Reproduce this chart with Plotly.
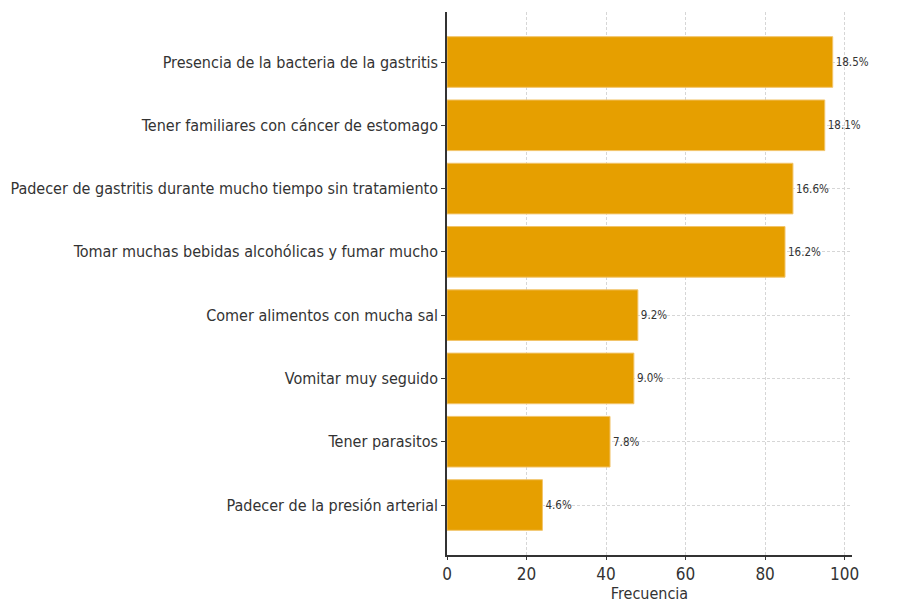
import plotly.graph_objects as go

causas = ['Presencia de la bacteria de la gastritis',
          'Tener familiares con cáncer de estomago',
          'Padecer de gastritis durante mucho tiempo sin tratamiento',
          'Tomar muchas bebidas alcohólicas y fumar mucho',
          'Comer alimentos con mucha sal',
          'Vomitar muy seguido',
          'Tener parasitos',
          'Padecer de la presión arterial']
frecuencia = [97, 95, 87, 85, 48, 47, 41, 24]
x_ticks = [0, 20, 40, 60, 80, 100]

total = sum(frecuencia)
porcentajes = [f'{v / total * 100:.1f}%' for v in frecuencia]

FONT = 'DejaVu Sans Condensed, DejaVu Sans, sans-serif'

fig = go.Figure(go.Bar(x=frecuencia, y=causas, orientation='h',
                       marker=dict(color='#E69F00', line=dict(color='#F2C46A', width=1)),
                       width=0.8,
                       text=porcentajes, textposition='outside',
                       textfont=dict(size=11.5, color='#333', family=FONT),
                       cliponaxis=False))

# page body adds 8px, so the figure is a bit smaller than the window
fig.update_layout(width=896, height=603,
                  margin=dict(l=439, r=52, t=4, b=56),
                  plot_bgcolor='white', paper_bgcolor='white',
                  font=dict(family=FONT, size=16, color='#333'),
                  showlegend=False,
                  xaxis=dict(range=[0, 101.85], tickvals=x_ticks, automargin=False,
                             showline=True, linecolor='#333', linewidth=1.5,
                             ticks='outside', ticklen=3, tickcolor='#333',
                             showgrid=True, gridcolor='#D6D6D6', griddash='3px,2px', gridwidth=1,
                             zeroline=False,
                             title=dict(text='Frecuencia', font=dict(size=16), standoff=0),
                             tickfont=dict(size=17)),
                  yaxis=dict(range=[7.79, -0.79], automargin=False,
                             showline=True, linecolor='#333', linewidth=1.5,
                             ticks='outside', ticklen=4, tickcolor='#333',
                             showgrid=True, gridcolor='#D6D6D6', griddash='3px,2px', gridwidth=1,
                             zeroline=False,
                             tickfont=dict(size=16)))

fig.write_html("out.html")
